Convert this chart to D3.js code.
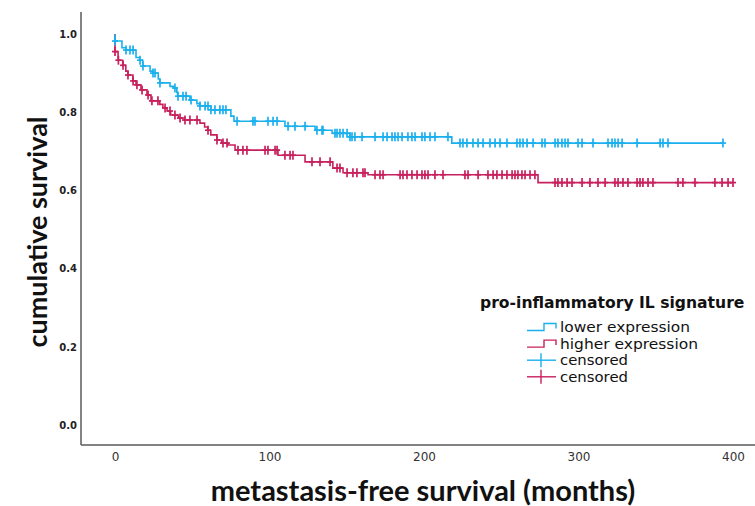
<!DOCTYPE html>
<html>
<head>
<meta charset="utf-8">
<script src="https://cdn.jsdelivr.net/npm/d3@7"></script>
<style>
  html, body { margin: 0; padding: 0; background: #fff; }
  svg { display: block; }
</style>
</head>
<body>
<svg id="chart" width="755" height="506"></svg>
<script>
// ---------------- data ----------------
const xTicks = [0, 100, 200, 300, 400];
const yTicks = [0.0, 0.2, 0.4, 0.6, 0.8, 1.0];

// lower expression group: event times (months) and survival after each event
const lowerTimes = [0, 4.5, 7, 13.6, 16, 18, 22.7, 24.6, 28, 29, 35.6, 38, 40, 40.5, 48.5, 53, 55, 62, 75, 77, 110, 129.5, 140.5, 152, 218];
const lowerSurv  = [0.982, 0.965, 0.959, 0.94, 0.933, 0.918, 0.905, 0.90, 0.885, 0.875, 0.866, 0.862, 0.851, 0.841, 0.831, 0.822, 0.816, 0.806, 0.79, 0.777, 0.764, 0.754, 0.746, 0.737, 0.721];
const lowerCensored = [0, 7.1, 9.7, 11.7, 16.2, 18.1, 24.6, 25.9, 29.1, 38.8, 40.8, 44.0, 46.0, 49.2, 55.0, 58.3, 60.2, 62.1, 64.7, 67.9, 69.9, 71.8, 79.0, 89.3, 90.6, 99.0, 102.3, 104.9, 112.0, 116.5, 123.0, 130.7, 134.0, 134.6, 142.4, 143.7, 145.6, 147.6, 150.2, 152.1, 153.4, 155.3, 159.9, 168.3, 173.5, 176.1, 179.3, 181.2, 183.2, 185.8, 189.6, 192.2, 194.2, 198.7, 200.6, 203.9, 207.1, 215.5, 223.3, 225.2, 227.8, 231.7, 235.0, 238.2, 242.7, 246.0, 249.2, 253.7, 260.2, 262.1, 264.1, 266.7, 270.6, 276.4, 278.3, 284.8, 286.7, 289.3, 291.3, 293.2, 299.7, 302.3, 309.4, 319.1, 321.7, 323.6, 325.6, 328.2, 337.9, 352.8, 354.7, 357.9, 393.5];

// higher expression group
const higherTimes = [0, 2, 5, 7, 8.4, 11.6, 13.6, 16.8, 20.7, 23.3, 29, 31, 33.7, 36, 41, 45, 55, 58, 60, 62, 66, 69, 73, 77.7, 105.5, 123, 141, 147.6, 163.8, 273.8];
const higherSurv  = [0.955, 0.933, 0.92, 0.905, 0.895, 0.88, 0.87, 0.857, 0.844, 0.829, 0.82, 0.811, 0.803, 0.793, 0.785, 0.78, 0.772, 0.762, 0.754, 0.742, 0.729, 0.721, 0.716, 0.703, 0.69, 0.673, 0.657, 0.645, 0.64, 0.62];
const higherCensored = [0, 2.2, 5.2, 8.4, 11.7, 14.2, 17.5, 21.4, 23.9, 27.8, 32.4, 35.6, 38.8, 42.1, 45.3, 48.5, 53.1, 60.2, 66.0, 69.9, 72.5, 79.6, 82.8, 85.4, 97.1, 99.0, 103.6, 104.9, 110.0, 113.3, 115.2, 127.5, 132.7, 139.2, 143.7, 145.6, 150.2, 154.0, 156.6, 160.5, 161.8, 168.3, 171.5, 173.5, 184.5, 186.4, 189.0, 192.2, 195.5, 198.7, 200.6, 202.6, 207.1, 212.3, 226.5, 228.5, 235.0, 241.4, 244.7, 247.2, 250.5, 253.7, 257.0, 258.9, 260.8, 263.4, 265.4, 268.6, 271.8, 284.8, 286.7, 289.3, 292.6, 295.8, 302.3, 307.4, 312.6, 317.2, 323.6, 325.6, 328.8, 332.0, 337.9, 339.8, 341.7, 345.0, 348.2, 364.4, 367.6, 375.4, 388.3, 392.9, 396.8, 400.0];

const groupNames = ["lower expression", "higher expression"];
const legendTitle = "pro-inflammatory IL signature";
const xTitle = "metastasis-free survival (months)";
const yTitle = "cumulative survival";

// ---------------- drawing ----------------
const BLUE = "#1ab0ee";
const RED = "#c8205c";

const svg = d3.select("#chart");
const x = d3.scaleLinear().domain([0, 400]).range([115, 733]);
const y = d3.scaleLinear().domain([0, 1]).range([425, 34]);

const axisColor = "#5a5a5a";
svg.append("line").attr("x1", 81).attr("x2", 81).attr("y1", 12).attr("y2", 445)
  .attr("stroke", axisColor).attr("stroke-width", 1.5);
svg.append("line").attr("x1", 81).attr("x2", 755).attr("y1", 445).attr("y2", 445)
  .attr("stroke", axisColor).attr("stroke-width", 1.5);

// y ticks
const yAxis = d3.axisLeft(y).tickValues(yTicks).tickFormat(d3.format(".1f")).tickSize(0).tickPadding(0);
const gy = svg.append("g").attr("transform", "translate(77,0)").call(yAxis);
gy.select(".domain").remove();
gy.selectAll("text").attr("font-family", "DejaVu Sans").attr("font-weight", "bold")
  .attr("font-size", 10).attr("fill", "#222");

// x ticks
const xAxis = d3.axisBottom(x).tickValues(xTicks).tickFormat(d3.format("d")).tickSize(0).tickPadding(0);
const gx = svg.append("g").attr("transform", "translate(0,452)").call(xAxis);
gx.select(".domain").remove();
gx.selectAll("text").attr("font-family", "DejaVu Sans")
  .attr("font-size", 12).attr("fill", "#333");

// axis titles
svg.append("text").attr("x", 423).attr("y", 501).attr("text-anchor", "middle")
  .attr("font-family", "Lato").attr("font-weight", "bold").attr("font-size", 29)
  .attr("fill", "#111").text(xTitle);
svg.append("text").attr("transform", "translate(47,232) rotate(-90)").attr("text-anchor", "middle")
  .attr("font-family", "Lato").attr("font-weight", "bold").attr("font-size", 27)
  .attr("fill", "#111").text(yTitle);

function survAt(times, surv, t) {
  let s = 1;
  for (let i = 0; i < times.length; i++) { if (times[i] <= t) s = surv[i]; else break; }
  return s;
}

function drawGroup(times, surv, cens, color) {
  const end = d3.max(cens);
  const pts = [[0, 1]].concat(times.map((t, i) => [t, surv[i]])).concat([[end, surv[surv.length - 1]]]);
  const line = d3.line().x(d => x(d[0])).y(d => y(d[1])).curve(d3.curveStepAfter);
  svg.append("path").attr("d", line(pts)).attr("fill", "none")
    .attr("stroke", color).attr("stroke-width", 1.6);
  const g = svg.append("g").attr("stroke", color).attr("stroke-width", 1.7);
  const marks = g.selectAll("g").data(cens).join("g")
    .attr("transform", d => `translate(${x(d)},${y(survAt(times, surv, d))})`);
  marks.append("line").attr("x1", 0).attr("x2", 0).attr("y1", -4.5).attr("y2", 4.5);
  marks.append("line").attr("x1", -3).attr("x2", 3).attr("y1", 0).attr("y2", 0);
}

drawGroup(higherTimes, higherSurv, higherCensored, RED);
drawGroup(lowerTimes, lowerSurv, lowerCensored, BLUE);

// legend
const lg = svg.append("g");
lg.append("text").attr("x", 480).attr("y", 308).attr("font-family", "DejaVu Sans")
  .attr("font-weight", "bold").attr("font-size", 15.6).attr("fill", "#111").text(legendTitle);
const items = [
  {label: groupNames[0], color: BLUE, type: "step", w: 130},
  {label: groupNames[1], color: RED, type: "step", w: 138},
  {label: "censored", color: BLUE, type: "cens", w: 68},
  {label: "censored", color: RED, type: "cens", w: 68}
];
const rowY = [327, 343.6, 360.2, 376.8];
items.forEach((it, i) => {
  const cy = rowY[i];
  if (it.type === "step") {
    lg.append("path").attr("d", `M527,${cy + 3.5}H544V${cy - 3.5}H556V${cy + 1.5}`)
      .attr("fill", "none").attr("stroke", it.color).attr("stroke-width", 1.4);
  } else {
    lg.append("line").attr("x1", 527).attr("x2", 556).attr("y1", cy).attr("y2", cy)
      .attr("stroke", it.color).attr("stroke-width", 1.4);
    lg.append("line").attr("x1", 541).attr("x2", 541).attr("y1", cy - 7).attr("y2", cy + 7)
      .attr("stroke", it.color).attr("stroke-width", 1.4);
  }
  lg.append("text").attr("x", 560).attr("y", cy + 5).attr("font-family", "DejaVu Sans")
    .attr("font-size", 14).attr("textLength", it.w).attr("lengthAdjust", "spacingAndGlyphs")
    .attr("fill", "#111").text(it.label);
});
</script>
</body>
</html>
